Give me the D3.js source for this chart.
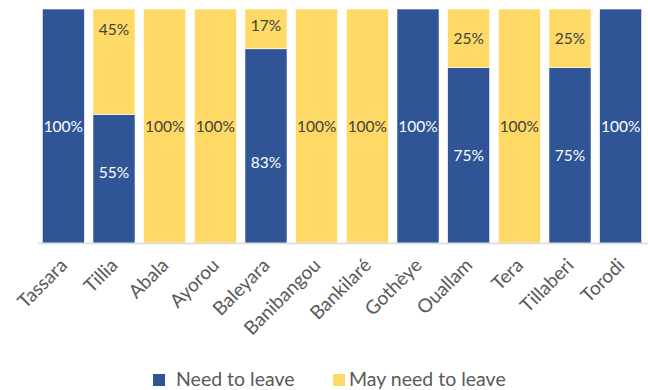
<!DOCTYPE html>
<html>
<head>
<meta charset="utf-8">
<script src="https://cdn.jsdelivr.net/npm/d3@7/dist/d3.min.js"></script>
<style>
  html, body { margin: 0; padding: 0; background: #ffffff; }
  svg { display: block; font-family: Lato, "Open Sans", sans-serif; }
</style>
</head>
<body>
<svg id="chart" width="648" height="390"></svg>
<script>
// Share of households by commune, in percent
const categories = ["Tassara", "Tillia", "Abala", "Ayorou", "Baleyara", "Banibangou",
                    "Bankilaré", "Gothèye", "Ouallam", "Tera", "Tillaberi", "Torodi"];
const needToLeave    = [100, 55, 0, 0, 83, 0, 0, 100, 75, 0, 75, 100];
const mayNeedToLeave = [0, 45, 100, 100, 17, 100, 100, 0, 25, 100, 25, 0];
const seriesNames = ["Need to leave", "May need to leave"];

const colors = { need: "#2F5597", may: "#FFD966" };
const textGray = "#595959";

const svg = d3.select("#chart");

const x = d3.scaleBand()
  .domain(categories)
  .range([38, 646])
  .paddingInner(0.17)
  .paddingOuter(0.085);

const y = d3.scaleLinear().domain([0, 100]).range([243, 9]);

const rows = categories.map((c, i) => ({ cat: c, need: needToLeave[i], may: mayNeedToLeave[i] }));
const stacked = d3.stack().keys(["need", "may"])(rows);

// stacked bars
const g = svg.append("g");
stacked.forEach(layer => {
  g.selectAll(null)
    .data(layer.filter(d => d[1] - d[0] > 0))
    .join("rect")
    .attr("x", d => x(d.data.cat))
    .attr("width", x.bandwidth())
    .attr("y", d => y(d[1]))
    .attr("height", d => y(d[0]) - y(d[1]))
    .attr("fill", colors[layer.key])
    .attr("stroke", "#ffffff")
    .attr("stroke-width", 0.6);
});

// value labels, centred in each segment, a few nudged clear of the join
const labelNudge = { "Tillia|may": -32, "Baleyara|need": 17, "Tillia|need": -6, "Baleyara|may": -3 };
stacked.forEach(layer => {
  g.selectAll(null)
    .data(layer.filter(d => d[1] - d[0] > 0))
    .join("text")
    .attr("x", d => x(d.data.cat) + x.bandwidth() / 2)
    .attr("y", d => (y(d[0]) + y(d[1])) / 2 + (labelNudge[d.data.cat + "|" + layer.key] || 0))
    .attr("dy", "0.36em")
    .attr("text-anchor", "middle")
    .attr("font-size", 15.5)
    .attr("fill", layer.key === "need" ? "#ffffff" : "#404040")
    .text(d => (d[1] - d[0]) + "%");
});

// category axis
const axis = svg.append("g").attr("transform", "translate(0,243.5)")
  .call(d3.axisBottom(x).tickSize(0).tickPadding(0));
axis.select(".domain").attr("stroke", "#d9d9d9").attr("stroke-width", 1.6)
  .attr("d", "M38,0H648");
axis.selectAll(".tick text")
  .attr("font-family", "Lato, 'Open Sans', sans-serif")
  .attr("font-size", 19)
  .attr("fill", textGray)
  .attr("text-anchor", "end")
  .attr("dy", 0)
  .attr("transform", "translate(5,23) rotate(-45)");

// legend
const legend = svg.append("g");
const legendItems = [
  { name: seriesNames[0], color: colors.need, sx: 153, tx: 176 },
  { name: seriesNames[1], color: colors.may, sx: 333, tx: 349 }
];
legendItems.forEach(it => {
  legend.append("rect").attr("x", it.sx).attr("y", 374).attr("width", 12).attr("height", 12)
    .attr("fill", it.color);
  legend.append("text").attr("x", it.tx).attr("y", 386)
    .attr("font-size", 19.5).attr("fill", textGray).text(it.name);
});
</script>
</body>
</html>
